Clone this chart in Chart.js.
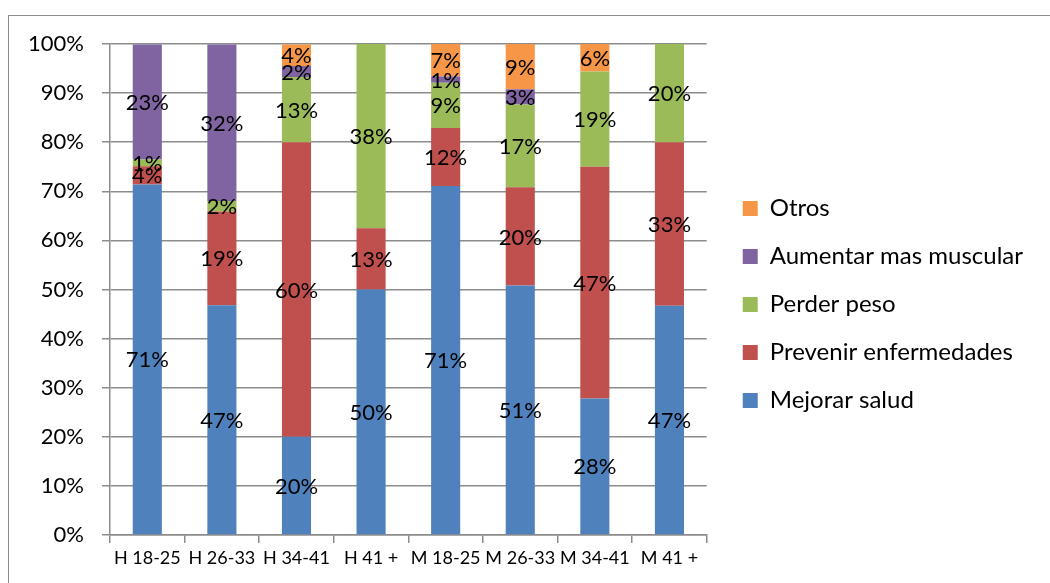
<!DOCTYPE html>
<html>
<head>
<meta charset="utf-8">
<script src="https://cdn.jsdelivr.net/npm/chart.js@4"></script>
<style>
  html, body { margin: 0; padding: 0; background: #fff; overflow: hidden; }
  #marco { position: absolute; left: 8px; top: 15px; width: 1100px; height: 700px; border: 1px solid #8c8c8c; }
  #caja { position: absolute; left: 0; top: 0; width: 1050px; height: 583px; }
</style>
</head>
<body>
<div id="marco"></div>
<div id="caja"><canvas id="myChart"></canvas></div>
<script>
var grupos = ["H 18-25", "H 26-33", "H 34-41", "H 41 +", "M 18-25", "M 26-33", "M 34-41", "M 41 +"];

var mejorarSalud = [71.4, 46.8, 20.0, 50.0, 71.1, 50.8, 27.8, 46.7];
var prevenirEnf  = [3.7, 19.1, 60.0, 12.5, 11.8, 20.0, 47.2, 33.3];
var perderPeso   = [1.4, 2.1, 13.3, 37.5, 9.2, 16.9, 19.4, 20.0];
var aumentarMas  = [23.4, 31.9, 2.2, 0, 1.3, 3.1, 0, 0];
var otros        = [0, 0, 4.4, 0, 6.6, 9.2, 5.6, 0];

var colores = ["#4F81BD", "#C0504D", "#9BBB59", "#8064A2", "#F79646"];
var gris = "#8c8c8c";
var fuente = "Lato";

// etiquetas dentro de cada segmento
const etiquetas = {
  id: "etiquetas",
  afterDatasetsDraw(chart) {
    const ctx = chart.ctx;
    ctx.save();
    ctx.font = "22px " + fuente;
    ctx.fillStyle = "#000";
    ctx.textAlign = "center";
    ctx.textBaseline = "middle";
    chart.data.datasets.forEach((ds, i) => {
      const meta = chart.getDatasetMeta(i);
      meta.data.forEach((bar, j) => {
        const v = ds.data[j];
        if (!v) return;
        ctx.fillText(Math.round(v) + "%", bar.x, (bar.y + bar.base) / 2 + 1);
      });
    });
    ctx.restore();
  }
};

function generarGraph() {
  new Chart("myChart", {
    type: "bar",
    data: {
      labels: grupos,
      datasets: [
        { label: "Mejorar salud", data: mejorarSalud, backgroundColor: colores[0] },
        { label: "Prevenir enfermedades", data: prevenirEnf, backgroundColor: colores[1] },
        { label: "Perder peso", data: perderPeso, backgroundColor: colores[2] },
        { label: "Aumentar mas muscular", data: aumentarMas, backgroundColor: colores[3] },
        { label: "Otros", data: otros, backgroundColor: colores[4] }
      ]
    },
    options: {
      responsive: true,
      maintainAspectRatio: false,
      animation: false,
      datasets: { bar: { barPercentage: 0.39, categoryPercentage: 1 } },
      layout: { padding: { top: 44, left: 0, right: 17, bottom: 18 } },
      plugins: {
        tooltip: { enabled: false },
        legend: {
          position: "right",
          reverse: true,
          maxWidth: 380,
          labels: {
            boxWidth: 15,
            boxHeight: 15,
            padding: 24,
            color: "#000",
            font: { family: fuente, size: 24 }
          }
        }
      },
      scales: {
        x: {
          stacked: true,
          grid: { drawOnChartArea: false, drawTicks: true, tickLength: 8, color: gris, lineWidth: 1.5 },
          border: { color: gris, width: 1.5 },
          ticks: { color: "#000", padding: 4, maxRotation: 0, font: { family: fuente, size: 18 } },
          afterFit: s => { s.height = 30; }
        },
        y: {
          stacked: true,
          min: 0,
          max: 100,
          ticks: { stepSize: 10, color: "#000", padding: 18, font: { family: fuente, size: 22 }, callback: v => v + "%" },
          grid: { color: gris, lineWidth: 1.5, tickLength: 8 },
          border: { color: gris, width: 1.5 },
          afterFit: s => { s.width = 110; }
        },
        // eje vacio: solo deja espacio entre el grafico y la leyenda
        hueco: {
          position: "right",
          ticks: { display: false },
          grid: { display: false, drawTicks: false },
          border: { display: false },
          afterFit: s => { s.width = 12; }
        }
      }
    },
    plugins: [etiquetas]
  });
}

Promise.all([
  document.fonts.load("22px Lato"),
  document.fonts.load("24px Lato"),
  document.fonts.load("18px Lato")
]).then(generarGraph).catch(generarGraph);
</script>
</body>
</html>
